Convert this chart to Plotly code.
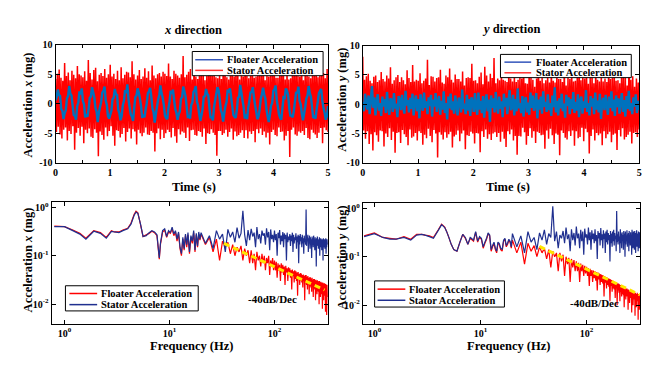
import plotly.graph_objects as go
from plotly.subplots import make_subplots

W, H = 664, 375
FONT = "Liberation Serif"
RED = "#ff0000"
BLUE = "#0072bd"
NAVY = "#1f2f8f"
YELLOW = "#ffe600"

# ---- time domain (5 s records) ----
t_end = 5.0

stator_x = [
    4.2, -4.8, 5.1, -3.9, 5.8, -5.2, 4.4, -5.9, 3.9, -4.4, 6.9, -4.0, 4.7, -6.2, 5.3, -4.6, 4.0, -5.1, 5.6, -3.8,
    4.9, -7.8, 4.3, -4.9, 6.4, -4.1, 5.0, -5.4, 4.8, -3.9, 4.5, -6.7, 5.5, -4.4, 3.9, -5.0, 7.4, -4.2, 5.2, -5.6,
    4.1, -5.8, 5.7, -4.3, 6.1, -4.9, 3.8, -8.9, 4.9, -4.7, 5.2, -5.3, 4.7, -6.1, 5.9, -4.0, 4.4, -5.5, 5.0, -4.6,
    6.6, -3.8, 4.6, -5.4, 5.1, -7.1, 4.2, -4.5, 5.6, -4.6, 4.0, -5.7, 6.2, -5.1, 4.3, -4.1, 4.9, -6.4, 5.4, -4.8,
    5.3, -4.2, 4.5, -5.9, 7.2, -4.3, 5.0, -4.7, 4.1, -6.9, 4.8, -4.4, 5.7, -5.0, 4.2, -5.5, 4.6, -4.9, 6.0, -4.0,
    4.4, -5.2, 5.5, -5.3, 4.0, -4.6, 6.5, -4.9, 4.8, -8.1, 4.3, -5.0, 5.0, -4.2, 5.2, -6.0, 4.6, -4.4, 5.4, -5.8,
    5.1, -5.0, 4.7, -4.4, 6.8, -4.8, 4.6, -5.7, 4.2, -4.1, 5.6, -5.5, 5.1, -6.6, 4.8, -4.3, 4.4, -5.2, 5.0, -4.7,
    8.1, -4.9, 4.5, -5.8, 4.9, -4.0, 5.4, -6.3, 5.9, -4.5, 4.1, -4.4, 7.0, -5.3, 4.6, -5.4, 4.2, -4.6, 6.3, -4.8,
    4.9, -5.6, 5.2, -4.2, 4.0, -6.8, 4.7, -5.0, 5.9, -5.1, 6.1, -4.3, 4.7, -4.9, 5.5, -5.3, 4.5, -8.8, 4.3, -4.6,
    5.0, -4.6, 4.2, -5.3, 6.7, -5.0, 5.3, -4.4, 4.5, -5.6, 4.1, -4.8, 5.8, -4.2, 5.3, -6.1, 4.6, -4.7, 6.4, -5.5,
    4.9, -5.3, 4.1, -4.9, 5.6, -4.5, 4.6, -5.8, 7.1, -4.5, 4.7, -5.9, 4.3, -4.7, 4.8, -5.1, 6.0, -4.6, 4.4, -6.5,
    4.6, -4.3, 5.2, -5.0, 5.3, -4.2, 4.8, -5.3, 6.6, -4.7, 4.0, -5.7, 5.0, -4.9, 4.6, -6.9, 5.1, -4.8, 5.5, -4.4,
    6.2, -5.3, 4.4, -5.5, 4.4, -4.0, 4.9, -4.8, 5.7, -4.7, 5.8, -6.2, 4.1, -5.4, 5.4, -4.6, 4.1, -9.0, 4.3, -4.4,
    5.9, -4.0, 5.3, -5.2, 6.3, -5.4, 4.7, -4.7, 4.6, -4.9, 7.0, -4.6, 4.0, -5.3, 5.6, -4.1, 5.0, -5.8, 4.6, -6.0,
    4.3, -4.4, 5.6, -4.9, 4.8, -5.2, 6.1, -5.8, 4.5, -4.9, 4.7, -4.1, 5.1, -6.7, 5.2, -4.0, 4.3, -4.5, 5.9, -4.8,
]

floater_x = [
    0.6, 1.1, 2.4, 1.5, 1.3, -0.9, -1.2, -2.6, -1.6, -1.1,
    0.9, 1.3, 3.0, 1.7, 1.4, -0.3, -1.9, -2.0, -2.7, -0.4,
    0.2, 2.1, 1.6, 2.6, 0.5, -0.1, -2.3, -1.8, -2.2, -0.9,
    1.0, 1.2, 2.8, 2.0, 1.1, -0.7, -1.3, -3.1, -1.5, -0.6,
    0.3, 1.9, 2.2, 2.9, 0.6, -0.2, -2.1, -2.5, -1.9, -1.2,
    0.8, 1.0, 2.5, 1.6, 1.5, -1.0, -1.6, -2.8, -2.1, -0.3,
    0.5, 2.3, 1.8, 3.3, 0.8, -0.6, -1.8, -2.2, -2.9, -0.7,
    1.1, 1.4, 2.6, 1.9, 0.9, -0.4, -2.4, -1.9, -2.3, -1.0,
    0.1, 1.8, 2.1, 2.7, 1.2, -0.8, -1.4, -3.2, -1.7, -0.5,
    0.7, 1.5, 3.1, 1.8, 1.0, -0.2, -2.0, -2.4, -2.6, -0.8,
    0.4, 2.2, 1.7, 2.4, 0.7, -0.9, -1.5, -2.7, -1.8, -1.3,
    0.9, 1.1, 2.9, 2.1, 1.3, -0.5, -2.2, -2.1, -2.5, -0.2,
    0.2, 2.0, 2.3, 3.0, 0.4, -0.3, -1.7, -2.9, -2.0, -0.9,
    1.2, 1.3, 2.5, 1.7, 1.4, -0.7, -2.3, -2.3, -2.8, -0.6,
    0.6, 1.7, 2.8, 2.3, 0.8, -1.1, -1.6, -3.0, -1.6, -0.4,
    0.3, 2.4, 1.9, 2.6, 1.1, -0.4, -1.9, -2.2, -2.4, -1.1,
    1.0, 1.2, 3.2, 1.9, 0.6, -0.6, -2.5, -1.8, -2.6, -0.7,
    0.5, 1.9, 2.0, 2.8, 1.2, -0.2, -1.3, -2.6, -2.2, -1.0,
    0.8, 1.6, 2.7, 1.6, 0.9, -0.9, -2.1, -3.1, -1.9, -0.3,
    0.1, 2.2, 2.4, 3.1, 0.7, -0.5, -1.8, -2.4, -2.7, -0.8,
    1.1, 1.0, 2.6, 2.2, 1.5, -0.8, -2.0, -2.0, -2.3, -1.2,
    0.4, 2.0, 1.8, 2.9, 0.5, -0.1, -1.6, -2.8, -1.7, -0.5,
    0.9, 1.4, 3.0, 1.8, 1.2, -0.6, -2.4, -2.2, -2.5, -0.9,
    0.3, 1.8, 2.2, 2.5, 0.6, -0.7, -1.5, -2.7, -2.1, -0.4,
]

stator_y = [
    8.1, -4.5, 4.2, -5.9, 4.8, -4.6, 5.2, -6.8, 4.0, -5.1, 3.6, -7.9, 4.7, -4.8, 4.9, -5.3, 3.8, -6.4, 4.1, -4.5,
    5.5, -4.6, 4.3, -7.2, 3.9, -5.0, 4.9, -5.6, 4.4, -4.1, 6.3, -6.1, 3.5, -4.7, 4.1, -8.3, 4.6, -4.9, 5.0, -4.8,
    3.8, -6.6, 4.6, -4.4, 4.1, -5.1, 3.4, -5.6, 5.8, -7.0, 4.5, -4.3, 3.8, -5.7, 6.7, -5.5, 3.9, -4.9, 4.2, -6.2,
    4.0, -4.6, 5.3, -4.9, 3.6, -6.9, 4.0, -5.2, 4.4, -5.8, 7.6, -4.2, 3.3, -5.4, 4.8, -6.5, 4.7, -4.4, 3.9, -5.0,
    4.5, -9.1, 4.6, -4.8, 5.9, -5.2, 3.7, -6.0, 3.5, -4.8, 4.9, -5.7, 4.6, -5.1, 6.1, -4.7, 4.2, -7.4, 3.7, -5.5,
    5.1, -5.2, 4.3, -4.5, 4.3, -6.3, 3.9, -5.0, 5.6, -4.5, 3.2, -7.7, 4.5, -5.3, 4.6, -5.4, 4.5, -4.7, 6.9, -5.0,
    4.0, -6.7, 4.1, -4.9, 3.6, -5.0, 4.7, -8.2, 5.4, -4.6, 3.4, -5.6, 6.4, -4.3, 4.9, -5.9, 3.9, -5.1, 5.2, -6.1,
    4.5, -5.0, 7.9, -4.8, 3.6, -5.6, 4.4, -4.9, 4.1, -6.4, 5.7, -4.7, 4.2, -5.9, 4.0, -7.3, 3.8, -4.6, 6.0, -5.1,
    4.4, -4.3, 3.9, -6.2, 5.0, -5.4, 3.8, -8.6, 4.2, -5.4, 4.8, -5.5, 4.4, -4.0, 6.6, -4.8, 3.6, -6.9, 3.5, -5.4,
    5.9, -4.1, 4.5, -5.7, 4.2, -4.6, 3.0, -6.6, 4.4, -4.7, 7.3, -4.9, 4.0, -5.3, 4.5, -5.2, 3.6, -7.6, 4.1, -4.5,
    4.9, -5.9, 3.7, -4.2, 6.2, -5.3, 4.0, -6.8, 3.7, -5.0, 5.3, -5.2, 4.3, -8.7, 4.3, -4.5, 3.8, -4.9, 6.5, -5.7,
    3.2, -6.0, 4.6, -4.6, 4.3, -5.4, 5.5, -4.5, 3.9, -7.1, 4.0, -4.6, 4.7, -5.8, 6.8, -5.6, 4.1, -4.0, 4.7, -6.3,
    4.4, -4.2, 5.8, -4.8, 3.5, -8.4, 4.6, -5.4, 4.9, -4.3, 3.6, -6.2, 6.0, -4.9, 4.2, -5.3, 3.9, -5.0, 5.1, -7.0,
    3.9, -4.6, 4.4, -5.8, 3.8, -5.1, 6.3, -4.7, 4.3, -6.5, 4.5, -5.2, 5.4, -5.0, 4.0, -7.8, 4.1, -4.4, 3.6, -5.5,
    5.6, -4.1, 4.7, -6.0, 4.5, -5.6, 3.2, -5.2, 8.0, -4.7, 4.2, -6.7, 4.8, -4.9, 3.0, -4.8, 4.4, -5.6, 3.7, -4.3,
]

floater_y = [
    0.4, -1.2, 1.8, 0.3, -0.9, 1.5, -1.7, 0.8, 3.1, -0.6, 1.2, -1.9, 0.5, 1.7, -1.1, 0.2, -2.0, 1.3, -0.4, 0.9,
    -1.5, 2.1, -0.3, -1.8, 1.0, 0.6, -1.3, 1.9, -0.7, 0.1, -2.2, 1.4, 0.8, -1.0, 1.6, -0.5, -1.6, 2.3, -0.2, 0.7,
    -1.4, 1.1, -0.8, 1.8, -1.9, 0.4, 1.5, -1.2, 0.9, -2.4, 1.7, -0.1, -1.1, 2.0, -0.6, 0.5, -1.7, 1.2, -0.3, 1.6,
    -2.1, 0.8, -0.4, 1.9, -1.3, 0.3, 1.4, -1.8, 0.6, -0.9, 2.2, -1.5, 0.2, -2.6, 1.3, -0.7, 1.8, -1.0, 0.5, -1.6,
    1.5, -0.2, -1.9, 1.1, 0.7, -1.4, 2.5, -0.8, 0.1, -1.7, 1.6, -1.1, 0.9, -2.0, 1.2, 0.4, -1.3, 1.9, -0.5, -1.8,
    2.0, -0.9, 0.6, -1.5, 1.4, -2.3, 0.3, 1.7, -1.2, 0.8, -3.0, 1.5, -0.6, 1.0, -1.4, 2.1, -0.3, -1.6, 1.3, -0.8,
    0.5, -2.2, 1.8, -0.4, 1.1, -1.7, 0.7, 2.4, -1.0, -0.5, 1.6, -1.9, 0.9, -1.2, 2.7, -0.7, 0.2, -1.5, 1.4, -2.1,
    0.6, 1.2, -1.4, 0.3, -1.8, 2.0, -0.6, 1.5, -1.1, -0.2, 1.9, -2.4, 0.8, -0.9, 1.3, -1.6, 2.2, -0.4, 0.4, -1.3,
    1.7, -1.0, 0.2, -2.0, 1.5, -0.5, 2.9, -1.4, 0.6, -1.9, 1.0, -0.7, 1.8, -1.2, 0.1, -2.3, 1.6, -0.3, 1.2, -1.7,
    0.9, -0.8, 2.1, -1.5, 0.4, -1.1, 1.7, -2.2, 0.7, 1.3, -1.6, 0.5, -0.6, 2.4, -1.3, 0.2, -1.9, 1.4, -0.4, 1.0,
    -1.7, 2.0, -0.9, 0.6, -1.4, 1.8, -2.5, 0.3, 1.1, -1.0, 1.6, -0.2, -1.8, 1.3, -0.6, 2.2, -1.2, 0.8, -2.0, 1.5,
    -0.5, 1.0, -1.6, 0.4, 1.9, -1.3, 0.7, -2.1, 1.4, -0.8, 2.3, -1.1, 0.2, -1.7, 1.2, -0.4, 1.7, -1.5, 0.6, -1.0,
]

# ---- spectra ----
# low-frequency bins listed one by one, then a uniform 2 Hz grid from 20 Hz
freq_lo = [0.8, 1.0, 1.2, 1.4, 1.6, 1.9, 2.2, 2.5, 2.8, 3.0,
           3.3, 3.6, 4.0, 4.3, 4.6, 4.8, 5.0, 5.3, 5.6, 6.0,
           6.4, 6.8, 7.2, 7.6, 8.0, 8.2, 8.6, 9.0, 9.4, 9.8,
           10.2, 10.6, 11.0, 11.4, 11.8, 12.2, 12.6, 13.0, 13.4, 13.8,
           14.2, 14.6, 15.0, 15.5, 16.0, 16.5, 17.0, 17.5, 18.0, 18.5,
           19.0, 19.5]
freq_hi_start = 20.0
freq_hi_step = 2.0

stator_fx_lo = [0.40, 0.40, 0.33, 0.28, 0.22, 0.32, 0.29, 0.23, 0.32, 0.31,
                0.30, 0.33, 0.36, 0.45, 0.68, 0.80, 0.75, 0.45, 0.25, 0.26,
                0.30, 0.33, 0.31, 0.27, 0.09, 0.18, 0.33, 0.36, 0.25, 0.33,
                0.30, 0.39, 0.28, 0.33, 0.22, 0.31, 0.15, 0.11, 0.24, 0.14,
                0.28, 0.17, 0.30, 0.12, 0.26, 0.20, 0.33, 0.13, 0.29, 0.16,
                0.31, 0.22]
floater_fx_lo = [0.41, 0.40, 0.34, 0.29, 0.23, 0.33, 0.30, 0.24, 0.33, 0.31,
                 0.31, 0.34, 0.37, 0.47, 0.71, 0.83, 0.77, 0.44, 0.25, 0.27,
                 0.29, 0.32, 0.30, 0.26, 0.085, 0.17, 0.31, 0.34, 0.24, 0.31,
                 0.29, 0.36, 0.26, 0.31, 0.20, 0.29, 0.14, 0.10, 0.22, 0.13,
                 0.26, 0.15, 0.27, 0.11, 0.24, 0.18, 0.30, 0.12, 0.27, 0.15,
                 0.28, 0.21]
stator_fx_hi = [0.30, 0.18, 0.26, 0.14, 0.33, 0.22, 0.28, 0.12, 0.35, 0.24,
                0.31, 0.19, 0.38, 0.23, 0.29, 0.85, 0.27, 0.16, 0.34, 0.21,
                0.36, 0.25, 0.30, 0.15, 0.39, 0.22, 0.28, 0.18, 0.33, 0.26,
                0.29, 0.17, 0.37, 0.24, 0.31, 0.13, 0.35, 0.22, 0.27, 0.19,
                0.33, 0.21, 0.28, 0.10, 0.30, 0.23, 0.34, 0.17, 0.26, 0.20,
                0.31, 0.15, 0.29, 0.22, 0.27, 0.08, 0.30, 0.19, 0.25, 0.21,
                0.28, 0.16, 0.26, 0.20, 0.30, 0.12, 0.27, 0.18, 0.24, 0.21,
                0.29, 0.14, 0.25, 0.19, 0.27, 0.07, 0.26, 0.17, 0.28, 0.20,
                0.24, 0.15, 0.27, 0.18, 0.23, 0.11, 0.26, 0.19, 0.22, 0.17,
                0.90, 0.16, 0.25, 0.20, 0.27, 0.12, 0.23, 0.18, 0.26, 0.14,
                0.24, 0.17, 0.22, 0.09, 0.25, 0.18, 0.23, 0.15, 0.26, 0.19,
                0.21, 0.13, 0.24, 0.17, 0.22, 0.06, 0.23, 0.16, 0.25, 0.18,
                0.22, 0.14, 0.21, 0.17, 0.24, 0.10, 0.22, 0.15, 0.23, 0.18,
                0.20, 0.13, 0.22, 0.16, 0.21, 0.08, 0.23, 0.15, 0.20, 0.17,
                0.22, 0.14, 0.20, 0.16, 0.23, 0.11, 0.21, 0.15, 0.22, 0.17]
floater_fx_hi = [0.28, 0.17, 0.24, 0.12, 0.22, 0.08, 0.20, 0.15, 0.19, 0.11,
                 0.17, 0.10, 0.15, 0.12, 0.16, 0.08, 0.14, 0.10, 0.13, 0.07,
                 0.13, 0.07, 0.11, 0.05, 0.12, 0.08, 0.10, 0.06, 0.11, 0.07,
                 0.10, 0.05, 0.09, 0.07, 0.10, 0.04, 0.08, 0.06, 0.09, 0.05,
                 0.08, 0.05, 0.075, 0.035, 0.07, 0.05, 0.065, 0.03, 0.07, 0.045,
                 0.065, 0.04, 0.06, 0.025, 0.062, 0.045, 0.055, 0.03, 0.058, 0.04,
                 0.055, 0.035, 0.05, 0.02, 0.052, 0.038, 0.048, 0.028, 0.05, 0.033,
                 0.048, 0.03, 0.045, 0.015, 0.046, 0.033, 0.042, 0.025, 0.044, 0.03,
                 0.043, 0.028, 0.04, 0.022, 0.041, 0.03, 0.038, 0.012, 0.04, 0.027,
                 0.04, 0.025, 0.037, 0.02, 0.038, 0.026, 0.035, 0.016, 0.036, 0.024,
                 0.036, 0.022, 0.034, 0.018, 0.035, 0.024, 0.032, 0.014, 0.033, 0.021,
                 0.033, 0.02, 0.031, 0.012, 0.032, 0.022, 0.03, 0.016, 0.031, 0.019,
                 0.03, 0.018, 0.029, 0.01, 0.03, 0.02, 0.028, 0.014, 0.029, 0.017,
                 0.028, 0.016, 0.027, 0.008, 0.028, 0.018, 0.026, 0.012, 0.027, 0.015,
                 0.027, 0.015, 0.025, 0.007, 0.026, 0.017, 0.024, 0.006, 0.025, 0.014]

stator_fy_lo = [0.26, 0.30, 0.25, 0.23, 0.23, 0.25, 0.22, 0.28, 0.29, 0.28,
                0.26, 0.24, 0.35, 0.46, 0.40, 0.33, 0.26, 0.18, 0.14, 0.13,
                0.20, 0.29, 0.25, 0.18, 0.25, 0.24, 0.22, 0.33, 0.21, 0.26,
                0.24, 0.16, 0.20, 0.24, 0.31, 0.28, 0.14, 0.17, 0.20, 0.15,
                0.13, 0.20, 0.19, 0.15, 0.14, 0.22, 0.24, 0.17, 0.19, 0.23,
                0.21, 0.16]
floater_fy_lo = [0.27, 0.31, 0.25, 0.24, 0.23, 0.26, 0.23, 0.29, 0.29, 0.28,
                 0.27, 0.25, 0.36, 0.47, 0.41, 0.33, 0.26, 0.18, 0.14, 0.13,
                 0.20, 0.29, 0.24, 0.18, 0.24, 0.23, 0.21, 0.32, 0.20, 0.25,
                 0.23, 0.15, 0.19, 0.23, 0.30, 0.27, 0.13, 0.16, 0.19, 0.14,
                 0.12, 0.19, 0.18, 0.14, 0.13, 0.21, 0.23, 0.16, 0.18, 0.22,
                 0.20, 0.15]
stator_fy_hi = [0.30, 0.16, 0.27, 0.12, 0.33, 0.20, 0.25, 0.14, 0.31, 0.22,
                0.36, 0.18, 0.30, 0.25, 1.10, 0.21, 0.33, 0.15, 0.28, 0.24,
                0.34, 0.19, 0.40, 0.23, 0.29, 0.13, 0.37, 0.22, 0.31, 0.17,
                0.42, 0.24, 0.30, 0.15, 0.36, 0.21, 0.33, 0.11, 0.38, 0.25,
                0.29, 0.18, 0.40, 0.22, 0.32, 0.14, 0.35, 0.23, 0.30, 0.19,
                0.37, 0.21, 0.28, 0.09, 0.34, 0.24, 0.31, 0.17, 0.39, 0.22,
                0.29, 0.15, 0.35, 0.23, 0.30, 0.12, 0.33, 0.20, 0.36, 0.18,
                0.31, 0.22, 0.28, 0.08, 0.34, 0.19, 0.30, 0.16, 0.33, 0.21,
                0.36, 0.17, 0.31, 0.23, 0.27, 0.13, 0.88, 0.20, 0.29, 0.18,
                0.33, 0.21, 0.26, 0.12, 0.37, 0.19, 0.30, 0.15, 0.32, 0.22,
                0.28, 0.14, 0.34, 0.20, 0.30, 0.10, 0.33, 0.18, 0.27, 0.21,
                0.35, 0.16, 0.29, 0.22, 0.31, 0.13, 0.34, 0.19, 0.28, 0.17,
                0.32, 0.20, 0.27, 0.11, 0.36, 0.18, 0.30, 0.15, 0.33, 0.21,
                0.29, 0.14, 0.34, 0.19, 0.28, 0.12, 0.31, 0.22, 0.35, 0.16,
                0.30, 0.20, 0.27, 0.13, 0.33, 0.18, 0.29, 0.15, 0.32, 0.19]
floater_fy_hi = [0.22, 0.12, 0.20, 0.07, 0.19, 0.13, 0.17, 0.10, 0.16, 0.12,
                 0.15, 0.09, 0.14, 0.06, 0.13, 0.10, 0.12, 0.05, 0.12, 0.08,
                 0.11, 0.04, 0.10, 0.07, 0.095, 0.03, 0.09, 0.06, 0.085, 0.05,
                 0.08, 0.05, 0.075, 0.03, 0.072, 0.05, 0.068, 0.04, 0.065, 0.045,
                 0.062, 0.04, 0.058, 0.025, 0.056, 0.04, 0.053, 0.03, 0.052, 0.036,
                 0.05, 0.032, 0.048, 0.02, 0.047, 0.034, 0.045, 0.026, 0.044, 0.03,
                 0.042, 0.028, 0.041, 0.015, 0.04, 0.029, 0.038, 0.022, 0.037, 0.026,
                 0.036, 0.024, 0.035, 0.012, 0.034, 0.025, 0.033, 0.019, 0.032, 0.022,
                 0.031, 0.021, 0.03, 0.014, 0.03, 0.022, 0.029, 0.01, 0.028, 0.02,
                 0.028, 0.018, 0.027, 0.012, 0.026, 0.019, 0.025, 0.015, 0.025, 0.017,
                 0.024, 0.016, 0.023, 0.009, 0.023, 0.017, 0.022, 0.013, 0.022, 0.015,
                 0.022, 0.015, 0.021, 0.008, 0.021, 0.016, 0.02, 0.011, 0.02, 0.014,
                 0.02, 0.014, 0.019, 0.007, 0.019, 0.014, 0.019, 0.01, 0.019, 0.013,
                 0.019, 0.013, 0.018, 0.006, 0.018, 0.013, 0.017, 0.009, 0.017, 0.012,
                 0.018, 0.012, 0.017, 0.005, 0.017, 0.012, 0.016, 0.008, 0.016, 0.011]

# -40dB/Dec guide lines (end points)
slope_x_f = [33, 300]
slope_x_a = [0.18, 0.0196]
slope_y_f = [36, 317]
slope_y_a = [0.163, 0.0163]

freq_hi = [freq_hi_start + freq_hi_step * i for i in range(len(stator_fx_hi))]
freq = freq_lo + freq_hi

fig = make_subplots(rows=2, cols=2)


def time_trace(vals, color, width):
    # samples are evenly spaced over the 5 s record
    return go.Scatter(y=vals, x0=0, dx=t_end / (len(vals) - 1), mode="lines",
                      line=dict(color=color, width=width, simplify=False), showlegend=False)


# top row: time histories
fig.add_trace(time_trace(stator_x, RED, 1.5), row=1, col=1)
fig.add_trace(time_trace(floater_x, BLUE, 2.4), row=1, col=1)
fig.add_trace(time_trace(stator_y, RED, 1.5), row=1, col=2)
fig.add_trace(time_trace(floater_y, BLUE, 2.4), row=1, col=2)

# bottom row: spectra
for col, fl, st, sf, sa in [(1, floater_fx_lo + floater_fx_hi, stator_fx_lo + stator_fx_hi, slope_x_f, slope_x_a),
                            (2, floater_fy_lo + floater_fy_hi, stator_fy_lo + stator_fy_hi, slope_y_f, slope_y_a)]:
    fig.add_trace(go.Scatter(x=freq, y=fl, mode="lines", line=dict(color=RED, width=1.2, simplify=False),
                             showlegend=False), row=2, col=col)
    fig.add_trace(go.Scatter(x=freq, y=st, mode="lines", line=dict(color=NAVY, width=1.2, simplify=False),
                             showlegend=False), row=2, col=col)
    fig.add_trace(go.Scatter(x=sf, y=sa, mode="lines", line=dict(color=YELLOW, width=3, dash="6px,4px"),
                             showlegend=False), row=2, col=col)

tick_font = dict(family=FONT, size=10, color="black", weight="bold")
axis_style = dict(showline=True, linecolor="black", linewidth=1, mirror="ticks", ticks="inside",
                  ticklen=4, tickcolor="black", showgrid=False, zeroline=False, tickfont=tick_font)


def dom_x(a, b):
    return [a / W, b / W]


def dom_y(top, bottom):
    return [1 - bottom / H, 1 - top / H]


time_ticks = [0, 1, 2, 3, 4, 5]
acc_ticks = [-10, -5, 0, 5, 10]
acc_text = ["-10", "-5", "0", "5", "10"]

fig.update_xaxes(row=1, col=1, domain=dom_x(53, 328), range=[0, 5], tickvals=time_ticks,
                 minor=dict(dtick=0.5, ticks="inside", ticklen=3, tickcolor="black"), **axis_style)
fig.update_xaxes(row=1, col=2, domain=dom_x(363, 642), range=[0, 5], tickvals=time_ticks,
                 minor=dict(dtick=0.5, ticks="inside", ticklen=3, tickcolor="black"), **axis_style)
fig.update_yaxes(row=1, col=1, domain=dom_y(40, 162), range=[-10, 10], tickvals=acc_ticks,
                 ticktext=acc_text, **axis_style)
fig.update_yaxes(row=1, col=2, domain=dom_y(41, 162), range=[-10, 10], tickvals=acc_ticks,
                 ticktext=acc_text, **axis_style)

f_ticks = [1, 10, 100]
f_text = ["10<sup>0</sup>", "10<sup>1</sup>", "10<sup>2</sup>"]
a_ticks = [0.01, 0.1, 1]
a_text = ["10<sup>-2</sup>", "10<sup>-1</sup>", "10<sup>0</sup>"]

fig.update_xaxes(row=2, col=1, type="log", domain=dom_x(49, 328), range=[-0.123, 2.51],
                 tickvals=f_ticks, ticktext=f_text, **axis_style)
fig.update_xaxes(row=2, col=2, type="log", domain=dom_x(363, 643), range=[-0.11, 2.505],
                 tickvals=f_ticks, ticktext=f_text, **axis_style)
fig.update_yaxes(row=2, col=1, type="log", domain=dom_y(202, 328), range=[-2.4, 0.12],
                 tickvals=a_ticks, ticktext=a_text, **axis_style)
fig.update_yaxes(row=2, col=2, type="log", domain=dom_y(203, 328), range=[-2.38, 0.12],
                 tickvals=a_ticks, ticktext=a_text, **axis_style)


def label(text, xp, yp, size=12.5, angle=0, anchor="center"):
    fig.add_annotation(text=text, x=xp / W, y=1 - yp / H, xref="paper", yref="paper",
                       showarrow=False, textangle=angle, xanchor=anchor, yanchor="middle",
                       borderpad=0, font=dict(family=FONT, size=size, color="black", weight="bold"))


label("<i>x</i> direction", 192, 25)
label("<i>y</i> direction", 513, 24)
label("Acceleration <i>x</i> (mg)", 25, 102, angle=-90)
label("Acceleration <i>y</i> (mg)", 342, 97, angle=-90)
label("Acceleration <i>x</i> (mg)", 25, 262, angle=-90)
label("Acceleration <i>y</i> (mg)", 342, 260, angle=-90)
label("Time (s)", 193, 187)
label("Time (s)", 510, 187)
label("Frequency (Hz)", 190, 351)
label("Frequency (Hz)", 510, 351)
label("-40dB/Dec", 272, 303, size=11)
label("-40dB/Dec", 597, 307, size=11)


def legend_box(box, line_x, text_x, rows):
    x0, y0, x1, y1 = box
    fig.add_shape(type="rect", xref="paper", yref="paper", x0=x0 / W, x1=x1 / W,
                  y0=1 - y1 / H, y1=1 - y0 / H, line=dict(color="black", width=1),
                  fillcolor="white", layer="above")
    for name, color, ry in rows:
        fig.add_shape(type="line", xref="paper", yref="paper", x0=line_x[0] / W, x1=line_x[1] / W,
                      y0=1 - ry / H, y1=1 - ry / H, line=dict(color=color, width=1.5), layer="above")
        label(name, text_x, ry, size=10.5, anchor="left")


legend_box((191, 47, 323, 72), (194, 222), 225,
           [("Floater Acceleration", "#3355bb", 55.5), ("Stator Acceleration", "#ff3333", 66.5)])
legend_box((502, 50, 634, 74), (506, 533), 537,
           [("Floater Acceleration", "#3355bb", 58), ("Stator Acceleration", "#ff3333", 69)])
legend_box((63, 289, 197, 315), (67, 95), 98,
           [("Floater Acceleration", RED, 297), ("Stator Acceleration", NAVY, 308.5)])
legend_box((375, 284, 506, 311), (378, 406), 409,
           [("Floater Acceleration", RED, 292.5), ("Stator Acceleration", NAVY, 304)])

fig.update_layout(width=W, height=H, autosize=False, margin=dict(l=0, r=0, t=0, b=0),
                  paper_bgcolor="white", plot_bgcolor="white", showlegend=False,
                  font=dict(family=FONT, color="black"))

# drop the browser's default body margin so the figure sits at the page corner
fig.write_html("out.html", config={"displayModeBar": False},
               post_script="document.body.style.margin='0';")
